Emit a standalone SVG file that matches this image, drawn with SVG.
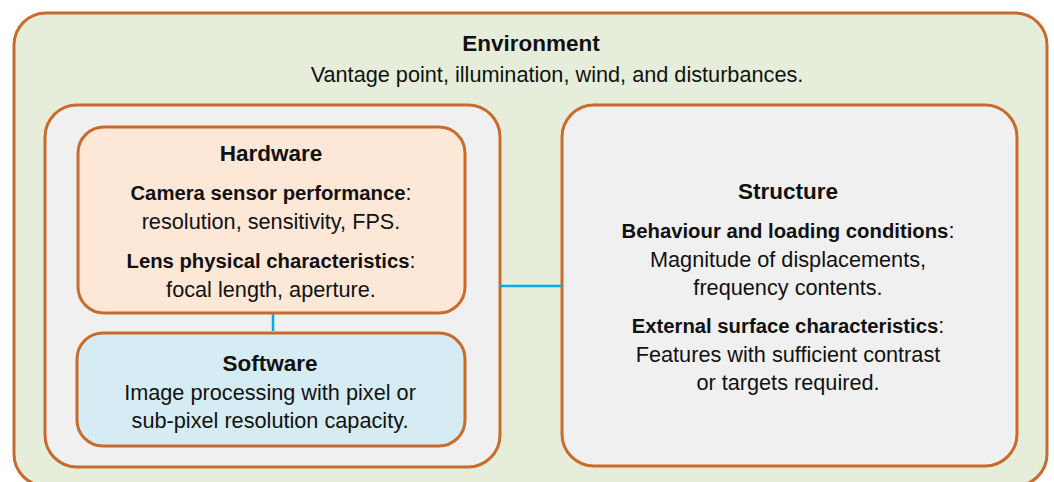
<svg xmlns="http://www.w3.org/2000/svg" width="1054" height="482" viewBox="0 0 1054 482">
<style>
.box{stroke:#C96B2A;stroke-width:3}
text{font-family:"Liberation Sans",Arial,sans-serif;font-size:21.7px;fill:#111;text-anchor:middle}
.b{font-weight:bold;font-size:20.3px}
.t{font-weight:bold;font-size:22.5px}
.conn{stroke:#00AEEF;stroke-width:2.5;fill:none}
</style>
<rect width="1054" height="482" fill="#ffffff"/>
<g id="environment">
<rect class="box" x="14" y="13" width="1033" height="473" rx="32" fill="#E6EEDB"/>
<text x="531" y="51" class="t">Environment</text>
<text x="557" y="82">Vantage point, illumination, wind, and disturbances.</text>
</g>
<g id="system">
<rect class="box" x="45" y="105" width="455" height="362" rx="32" fill="#F0F0F0"/>
</g>
<g id="structure">
<rect class="box" x="562" y="105" width="455" height="361" rx="32" fill="#F0F0F0"/>
<text x="788" y="199" class="t">Structure</text>
<text x="788" y="238"><tspan class="b">Behaviour and loading conditions</tspan>:</text>
<text x="788" y="267">Magnitude of displacements,</text>
<text x="788" y="295">frequency contents.</text>
<text x="788" y="333"><tspan class="b">External surface characteristics</tspan>:</text>
<text x="788" y="362">Features with sufficient contrast</text>
<text x="788" y="390">or targets required.</text>
</g>
<g id="connectors">
<line class="conn" x1="273" y1="314" x2="273" y2="331"/>
<line class="conn" x1="500" y1="286" x2="562" y2="286"/>
</g>
<g id="hardware">
<rect class="box" x="78" y="127" width="387" height="186" rx="26" fill="#FDE8D8"/>
<text x="271" y="161" class="t">Hardware</text>
<text x="271" y="200"><tspan class="b">Camera sensor performance</tspan>:</text>
<text x="271" y="229">resolution, sensitivity, FPS.</text>
<text x="271" y="268"><tspan class="b">Lens physical characteristics</tspan>:</text>
<text x="271" y="297">focal length, aperture.</text>
</g>
<g id="software">
<rect class="box" x="77" y="333" width="388" height="113" rx="26" fill="#D5ECF4"/>
<text x="270" y="371" class="t">Software</text>
<text x="270" y="400">Image processing with pixel or</text>
<text x="270" y="428">sub-pixel resolution capacity.</text>
</g>
</svg>
